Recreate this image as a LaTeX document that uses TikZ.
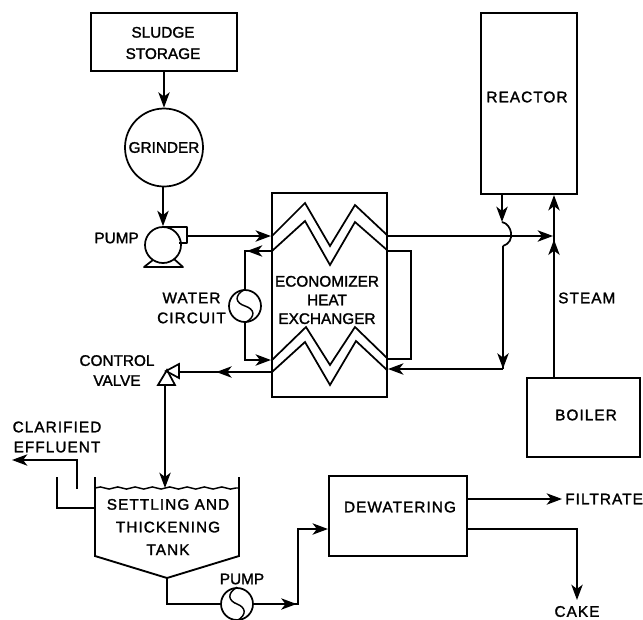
\documentclass[tikz,border=0pt]{standalone}
\usepackage{fontspec}
\setmainfont{Liberation Sans}[FakeBold=1.6]
\newfontfamily\widefont{Liberation Sans}[FakeBold=1.6,LetterSpace=7]
\usetikzlibrary{arrows.meta,decorations.markings,decorations.pathmorphing}
\tikzset{
  barb/.tip={Stealth[length=11.5pt,width=8.5pt,inset=3.2pt]},
  pipe/.style={line width=1.3pt,line join=miter},
  endtip/.style={pipe,-{barb}},
  midtip/.style={postaction={decorate},decoration={markings,mark=at position #1 with {\arrow{barb}}}},
  boxn/.style={draw,line width=1.6pt,inner sep=0pt},
  lab/.style={font=\fontsize{11.5}{13}\selectfont,inner sep=0pt,align=center},
  labw/.style={font=\fontsize{11.5}{13}\selectfont\widefont,inner sep=0pt,align=center},
  disc/.style={draw,circle,line width=1.3pt,inner sep=0pt},
  zig/.style={line width=1.3pt,line join=miter}
}
\begin{document}
\begin{tikzpicture}[x=.75pt,y=-.75pt]
\useasboundingbox (0,0) rectangle (643,619);
% blocks
\node[boxn,minimum width=109.5pt,minimum height=43.5pt] (storage) at (164,42) {};
\node[lab] (tstorage) at (163,43) {SLUDGE\\[3pt]STORAGE};
\node[disc,minimum size=58.5pt] (grinder) at (164,147.5) {};
\node[lab] (tgrinder) at (164,147.5) {GRINDER};
\node[boxn,minimum width=72pt,minimum height=135.75pt] (reactor) at (529,103.5) {};
\node[labw] (treactor) at (527,97) {REACTOR};
\node[boxn,minimum width=86.25pt,minimum height=153pt] (hx) at (329.5,295) {};
\node[lab,align=center] (thx) at (327,300) {ECONOMIZER\\[1pt]HEAT\\[1pt]EXCHANGER};
\node[boxn,minimum width=84.75pt,minimum height=59.25pt] (boiler) at (583.5,417.5) {};
\node[labw] (tboiler) at (586,415) {BOILER};
\node[boxn,minimum width=103.5pt,minimum height=60pt] (dewater) at (398,516) {};
\node[labw] (tdewater) at (400,507) {DEWATERING};
% pump 1
\node[disc,minimum size=27pt] (pumpa) at (163,245) {};
\draw[line width=1.3pt,line join=round] (163,227) -- (187,227) -- (187,243) -- (179,243);
\draw[line width=1.3pt,line join=round] (153,260) -- (144,267) -- (183,267) -- (174,259);
\node[lab,anchor=east] (tpumpa) at (139,238) {PUMP};
% water pump
\node[disc,minimum size=24pt] (pumpb) at (245,306) {};
\draw[line width=1.1pt] (pumpb.north) .. controls (233,296) and (236,303) .. (245,306) .. controls (254,309) and (257,316) .. (pumpb.south);
\node[labw] (twater) at (191.5,308) {WATER\\[2pt]CIRCUIT};
% hx zigzags
\draw[zig] (272,236) -- (305,203) -- (330,246) -- (355,205) -- (387,235);
\draw[zig] (272,251) -- (305,221) -- (330,265) -- (355,222) -- (387,250);
\draw[zig] (272,360) -- (306,327) -- (330,365) -- (355,327) -- (387,358);
\draw[zig] (272,372) -- (305,342) -- (330,385) -- (356,341) -- (387,370);
% valve
\coordinate (valve) at (167,375);
\draw[line width=1.3pt,line join=miter] (158,385) -- (175,385) -- (167,370) -- cycle;
\draw[line width=1.3pt,line join=miter] (179,364) -- (179,378) -- (166,371) -- cycle;
\node[lab] (tvalve) at (117,370.5) {CONTROL\\[2pt]VALVE};
% tank
\draw[line width=1.4pt,line join=miter] (95,477) coordinate (tankl) -- (95,556) -- (167,578) coordinate (tankb) -- (239,556) -- (239,477) coordinate (tankr);
\draw[line width=1.1pt,decorate,decoration={snake,amplitude=.8pt,segment length=13pt}] (95,488) -- (239,488);
\coordinate (water) at (165,488);
\node[labw] (ttank) at (168,527) {SETTLING AND\\[4pt]THICKENING\\[4pt]TANK};
\node[labw] (teff) at (57,437) {CLARIFIED\\[2pt]EFFLUENT};
% pump 2
\node[disc,minimum size=24pt] (pumpc) at (237,604) {};
\draw[line width=1.1pt] (pumpc.north) .. controls (226,594) and (229,601) .. (237,604) .. controls (245,607) and (248,614) .. (pumpc.south);
\node[lab] (tpumpc) at (242,579) {PUMP};
% labels
\node[labw,anchor=west] (tsteam) at (558,298) {STEAM};
\node[labw,anchor=west] (tfilt) at (565,499) {FILTRATE};
\node[labw] (tcake) at (577,611.5) {CAKE};
% connectors
\draw[endtip] (storage.south -| grinder) -- (grinder.north);
\draw[endtip] (grinder.south -| pumpa) -- (pumpa.north);
\draw[endtip] (187,236) -- (hx.west |- 0,236);
\draw[pipe,midtip=18pt] (hx.west |- 0,251) -- (pumpb |- 0,251) -- (pumpb.north);
\draw[endtip] (pumpb.south) -- (pumpb |- 0,360) -- (hx.west |- 0,360);
\draw[pipe] (hx.east |- 0,251) -- (411,251) -- (411,359) -- (hx.east |- 0,359);
\draw[pipe,midtip=41pt] (hx.west |- 0,372) -- (179,372);
\draw[endtip] (hx.east |- 0,236) -- (553,236);
\draw[endtip] (502,195) -- (502,222);
\draw[pipe] (502,222) .. controls (512,224) and (516,242) .. (503,246);
\draw[pipe,midtip=92pt] (503,246) -- (503,369);
\draw[endtip] (503,369) -- (hx.east |- 0,369);
\draw[pipe,-{barb},midtip=103pt] (boiler.north -| 554,0) -- (reactor.south -| 554,0);
\draw[endtip] (165,386) -- (water);
\draw[pipe] (tankl |- 0,508) -- (57,508) -- (57,477);
\draw[endtip] (77,489) -- (77,460) -- (12,460);
\draw[pipe] (tankb) -- (167,604) -- (pumpc.west);
\draw[pipe,midtip=32pt,-{barb}] (pumpc.east) -- (298,604) -- (298,529) -- (dewater.west |- 0,529);
\draw[endtip] (dewater.east |- 0,499) -- (562,499);
\draw[endtip] (dewater.east |- 0,529) -- (577,529) -- (577,600);
\end{tikzpicture}
\end{document}
